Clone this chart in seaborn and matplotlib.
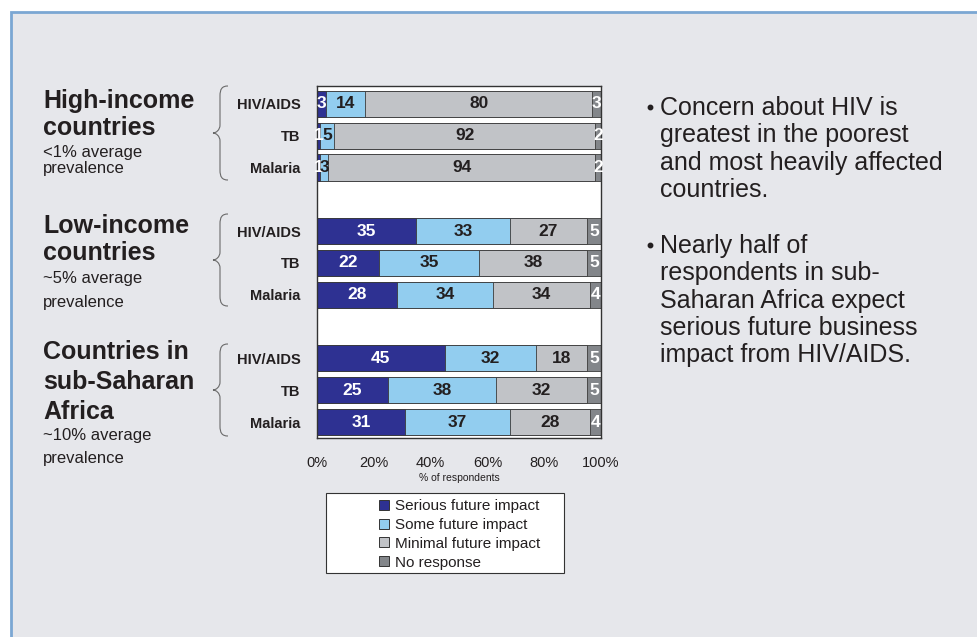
import numpy as np
import pandas as pd
import matplotlib.pyplot as plt
import seaborn as sns
from matplotlib.patches import Rectangle, PathPatch
from matplotlib.path import Path
from matplotlib.lines import Line2D

# data
groups = ["High-income", "Low-income", "Sub-Saharan Africa"]
diseases = ["HIV/AIDS", "TB", "Malaria"]
serious = [3, 1, 1, 35, 22, 28, 45, 25, 31]
some = [14, 5, 3, 33, 35, 34, 32, 38, 37]
minimal = [80, 92, 94, 27, 38, 34, 18, 32, 28]
no_resp = [3, 2, 2, 5, 5, 4, 5, 5, 4]
series_names = ["Serious future impact", "Some future impact",
                "Minimal future impact", "No response"]
series_colors = ["#2E3192", "#92CDEF", "#C1C3C7", "#83868A"]
label_colors = ["white", "#231F20", "#231F20", "white"]
xticks = [0, 20, 40, 60, 80, 100]

keys = [g + "|" + d for g in groups for d in diseases]
order = keys[0:3] + ["gap1"] + keys[3:6] + ["gap2"] + keys[6:9]

df = pd.DataFrame({"key": keys, "s1": serious, "s2": some, "s3": minimal, "s4": no_resp})
df["c1"] = df["s1"]
df["c2"] = df["c1"] + df["s2"]
df["c3"] = df["c2"] + df["s3"]
df["c4"] = df["c3"] + df["s4"]

sns.set_style("white")
plt.rcParams["font.family"] = ["Liberation Sans", "DejaVu Sans"]

W, H = 978, 637
fig = plt.figure(figsize=(W / 100, H / 100), dpi=100)
fig.patch.set_facecolor("white")

# overlay in pixel coordinates for panel, braces, text
bg = fig.add_axes([0, 0, 1, 1], zorder=0)
bg.set_xlim(0, W)
bg.set_ylim(H, 0)
bg.axis("off")
bg.add_patch(Rectangle((11, 12), 1100, 800, facecolor="#E6E7EB",
                       edgecolor="#7BA7D3", linewidth=2))

ax = fig.add_axes([317 / W, 1 - 438 / H, 284 / W, 352 / H], zorder=2)
ax.set_facecolor("white")

# stacked bars drawn as overlapping cumulative bars
for col, color in zip(["c4", "c3", "c2", "c1"], series_colors[::-1]):
    sns.barplot(data=df, x=col, y="key", order=order, orient="h", color=color,
                saturation=1, width=0.82, edgecolor="#3A3A3A", linewidth=0.6,
                errorbar=None, ax=ax)

for _, row in df.iterrows():
    yi = order.index(row["key"])
    left = 0
    for i in range(4):
        v = row["s%d" % (i + 1)]
        ax.text(left + v / 2, yi, str(v), ha="center", va="center",
                fontsize=12.5, fontweight="bold", color=label_colors[i])
        left += v

ax.set_xlim(0, 100)
ax.set_ylim(10.5, -0.56)
ax.set_xticks(xticks)
ax.set_xticklabels([f"{t}%" for t in xticks], fontsize=10.5, color="#231F20")
ax.set_yticks(range(len(order)))
ax.set_yticklabels([k.split("|")[1] if "|" in k else "" for k in order],
                   fontsize=10.5, fontweight="bold", color="#231F20")
ax.tick_params(axis="x", length=0, pad=13)
ax.tick_params(axis="y", length=0, pad=12)
ax.set_xlabel("% of respondents", fontsize=7.5, color="#231F20", labelpad=2)
ax.set_ylabel("")
for s in ax.spines.values():
    s.set_color("#333333")
    s.set_linewidth(1)


def brace(y0, y1, x_tip=213, x_line=220, x_end=228):
    ym = (y0 + y1) / 2
    verts = [(x_end, y0), (x_line + 2, y0), (x_line, y0 + 3), (x_line, y0 + 10),
             (x_line, ym - 8),
             (x_line, ym - 3), (x_tip + 3, ym), (x_tip, ym),
             (x_tip + 3, ym), (x_line, ym + 3), (x_line, ym + 8),
             (x_line, y1 - 10),
             (x_line, y1 - 3), (x_line + 2, y1), (x_end, y1)]
    codes = [Path.MOVETO, Path.CURVE4, Path.CURVE4, Path.CURVE4,
             Path.LINETO,
             Path.CURVE4, Path.CURVE4, Path.CURVE4,
             Path.CURVE4, Path.CURVE4, Path.CURVE4,
             Path.LINETO,
             Path.CURVE4, Path.CURVE4, Path.CURVE4]
    bg.add_patch(PathPatch(Path(verts, codes), facecolor="none",
                           edgecolor="#6A6A6A", linewidth=0.8))


brace(86, 180)
brace(214, 306)
brace(344, 436)

tc = "#231F20"
# group titles: (text, baseline y, bold)
left_lines = [
    ("High-income", 108, True), ("countries", 135, True),
    ("<1% average", 157, False), ("prevalence", 173, False),
    ("Low-income", 233, True), ("countries", 260, True),
    ("~5% average", 283, False), ("prevalence", 307, False),
    ("Countries in", 359, True), ("sub-Saharan", 389, True),
    ("Africa", 419, True),
    ("~10% average", 440, False), ("prevalence", 463, False),
]
for txt, yb, bold in left_lines:
    bg.text(43, yb, txt, fontsize=18 if bold else 12,
            fontweight="bold" if bold else "normal", color=tc, va="baseline")

bullets = [
    ["Concern about HIV is", "greatest in the poorest",
     "and most heavily affected", "countries."],
    ["Nearly half of", "respondents in sub-", "Saharan Africa expect",
     "serious future business", "impact from HIV/AIDS."],
]
for y0, lines in zip([115, 253], bullets):
    bg.plot([649.5], [y0 - 8], marker="o", markersize=3.2, color=tc)
    for j, line in enumerate(lines):
        bg.text(660, y0 + j * 27.3, line, fontsize=18, color=tc, va="baseline")

# legend
bg.add_patch(Rectangle((326, 493), 238, 80, facecolor="white",
                       edgecolor="#333333", linewidth=0.8))
handles = [Line2D([], [], marker="s", linestyle="none", markersize=6.5,
                  markerfacecolor=c, markeredgecolor="#333333", markeredgewidth=0.7)
           for c in series_colors]
fig.legend(handles, series_names, loc="upper left",
           bbox_to_anchor=(378 / W, 1 - 499 / H), frameon=False, fontsize=11,
           handlelength=0.8, handletextpad=0.3, labelspacing=0.32,
           borderpad=0, borderaxespad=0, labelcolor=tc)

fig.savefig("out.png", dpi=100)
